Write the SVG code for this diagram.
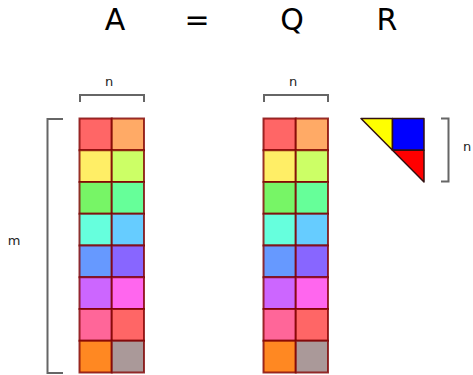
<svg xmlns="http://www.w3.org/2000/svg" width="473" height="375" viewBox="0 0 473 375">
<style>
.big{font-family:"DejaVu Sans",sans-serif;font-size:30px;fill:#000;text-anchor:middle}
.lbl{font-family:"DejaVu Sans",sans-serif;font-size:13px;fill:#222;text-anchor:middle}
.br{fill:none;stroke:#666;stroke-width:2}
.c{stroke:#800000;stroke-opacity:0.8;stroke-width:2}
.t{stroke:#331111;stroke-width:1.5;stroke-linejoin:round}
</style>
<defs>
<g id="mat">
<rect class="c" x="0" y="0" width="32.25" height="31.75" fill="#ff6666"/>
<rect class="c" x="32.25" y="0" width="32.25" height="31.75" fill="#ffaa66"/>
<rect class="c" x="0" y="31.75" width="32.25" height="31.75" fill="#ffee66"/>
<rect class="c" x="32.25" y="31.75" width="32.25" height="31.75" fill="#ccff66"/>
<rect class="c" x="0" y="63.5" width="32.25" height="31.75" fill="#77f566"/>
<rect class="c" x="32.25" y="63.5" width="32.25" height="31.75" fill="#66ff99"/>
<rect class="c" x="0" y="95.25" width="32.25" height="31.75" fill="#66ffdd"/>
<rect class="c" x="32.25" y="95.25" width="32.25" height="31.75" fill="#66ccff"/>
<rect class="c" x="0" y="127" width="32.25" height="31.75" fill="#6699ff"/>
<rect class="c" x="32.25" y="127" width="32.25" height="31.75" fill="#8866ff"/>
<rect class="c" x="0" y="158.75" width="32.25" height="31.75" fill="#cc66ff"/>
<rect class="c" x="32.25" y="158.75" width="32.25" height="31.75" fill="#ff66ee"/>
<rect class="c" x="0" y="190.5" width="32.25" height="31.75" fill="#ff6699"/>
<rect class="c" x="32.25" y="190.5" width="32.25" height="31.75" fill="#ff6666"/>
<rect class="c" x="0" y="222.25" width="32.25" height="31.75" fill="#ff8822"/>
<rect class="c" x="32.25" y="222.25" width="32.25" height="31.75" fill="#aa9999"/>
</g>
</defs>
<g id="title">
<text class="big" x="115" y="30">A</text>
<text class="big" x="197" y="30">=</text>
<text class="big" x="292" y="30">Q</text>
<text class="big" x="387" y="30">R</text>
</g>
<g id="matrixA">
<use href="#mat" x="79.5" y="118.5"/>
</g>
<g id="matrixQ">
<use href="#mat" x="263.5" y="118.5"/>
</g>
<g id="matrixR">
<polygon class="t" points="361,118.5 392.5,118.5 392.5,150.25" fill="#ffff00"/>
<rect class="t" x="392.5" y="118.5" width="31.5" height="31.75" fill="#0000ff"/>
<polygon class="t" points="392.5,150.25 424,150.25 424,182" fill="#ff0000"/>
</g>
<g id="connectors">
<path class="br" d="M80,102 V95 H144 V102"/>
<path class="br" d="M264,102 V95 H328 V102"/>
<path class="br" d="M63,119 H47.5 V373 H63"/>
<path class="br" d="M441,118.5 H448.5 V181.5 H441"/>
</g>
<g id="labels">
<text class="lbl" x="109" y="86">n</text>
<text class="lbl" x="293" y="86">n</text>
<text class="lbl" x="14" y="245">m</text>
<text class="lbl" x="467" y="151">n</text>
</g>
</svg>
